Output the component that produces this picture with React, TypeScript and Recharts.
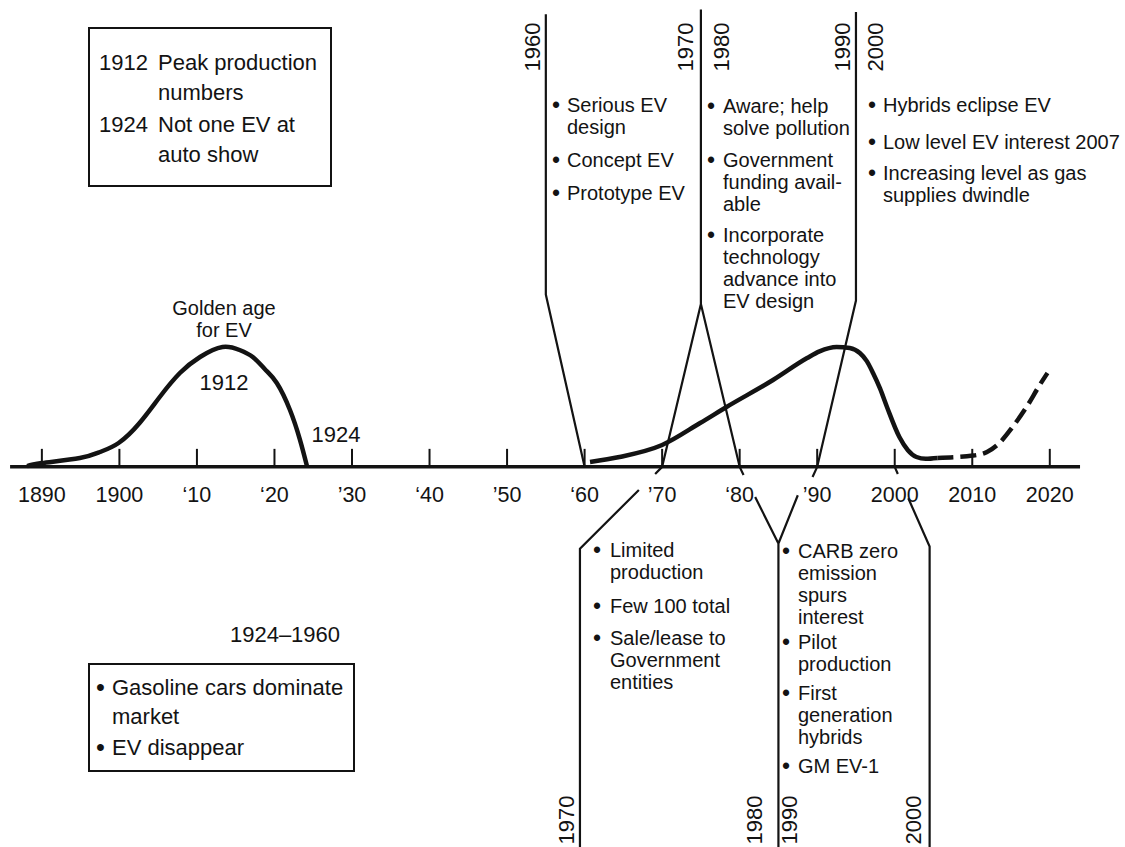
import React from "react";
import { ComposedChart, Line, Scatter, XAxis, YAxis } from "recharts";

const W = 1125;
const H = 847;
const FONT = '"Liberation Sans", Arial, Helvetica, sans-serif';
const INK = "#131313";

// time axis
const TICK_YEARS = [1890, 1900, 1910, 1920, 1930, 1940, 1950, 1960, 1970, 1980, 1990, 2000, 2010, 2020];
const TICK_LABELS = ["1890", "1900", "‘10", "‘20", "’30", "‘40", "’50", "‘60", "’70", "‘80", "’90", "2000", "2010", "2020"];
const AXIS_ENDS = [1885.9, 2023.9];

// EV interest level over time: 0 = on the axis, ~100 = peak
const GOLDEN_AGE = [
  [1888.1, 0.7], [1890, 3.2], [1894.9, 7.5], [1897.5, 12.5], [1899.9, 20.1], [1902.6, 36.9],
  [1905.2, 58.8], [1907.8, 79], [1910.4, 92.5], [1913.3, 100.9], [1915.5, 98.4],
  [1917.2, 92.5], [1918.8, 82], [1920.3, 70.6], [1922.0, 47.9], [1923.3, 22.6], [1924.2, 0.5],
];
const REVIVAL = [
  [1960.7, 4.1], [1964.5, 8.3], [1970, 18.4], [1974.9, 36.9], [1978.3, 50.4], [1984.3, 73.1],
  [1988.7, 91.6], [1990.3, 97.2], [1992.5, 100.9], [1994.2, 100], [1995.5, 95.8], [1996.4, 89],
  [1997.2, 79], [1998.1, 66], [1999.0, 50.4], [2000.6, 25.1], [2001.7, 14], [2002.8, 8.3],
  [2004.0, 6.8], [2005.5, 7.5],
];
const OUTLOOK = [
  [2005.5, 7.5], [2010.1, 9.5], [2011.9, 12.5], [2013.5, 20.1], [2015.2, 33.6], [2017.0, 50.4],
  [2018.7, 68.9], [2019.7, 79],
];

// leader lines from the notes to the axis (year, level); null leaves room for a tick label
const LEAD_1960 = [[1955, 381], [1955, 145], [1960, 0]];
const LEAD_1970_80 = [[1975, 385], [1975, 137], [1970, 0], [1972, null], [1975, 137], [1980, 0]];
const LEAD_1990_2000 = [[1995, 383], [1995, 140], [1990, 0]];
const LEAD_LOW_1970 = [[1959.4, -320], [1959.4, -69], [1967, -19.4], [1968, null], [1969.1, -6], [1970, 0]];
const LEAD_LOW_1980_90 = [
  [1985, -320], [1985, -64.5], [1982, -25.4], [1981, null], [1980.5, -6.8], [1980, 0],
  [1983, null], [1985, -64.5], [1987.5, -23.9], [1989, null], [1989.4, -8.5], [1990, 0],
];
const LEAD_LOW_2000 = [[2004.5, -320], [2004.5, -67], [2001.75, -26.4], [2001, null], [2000.4, -6], [2000, 0]];

// note texts
const PEAK_NOTES: [string, string[]][] = [
  ["1912", ["Peak production", "numbers"]],
  ["1924", ["Not one EV at", "auto show"]],
];
const GAS_NOTES = [["Gasoline cars dominate", "market"], ["EV disappear"]];
const NOTES_60S = [["Serious EV", "design"], ["Concept EV"], ["Prototype EV"]];
const NOTES_70S = [
  ["Aware; help", "solve pollution"],
  ["Government", "funding avail-", "able"],
  ["Incorporate", "technology", "advance into", "EV design"],
];
const NOTES_2000S = [["Hybrids eclipse EV"], ["Low level EV interest 2007"], ["Increasing level as gas", "supplies dwindle"]];
const NOTES_LOW_70S = [["Limited", "production"], ["Few 100 total"], ["Sale/lease to", "Government", "entities"]];
const NOTES_LOW_90S = [
  ["CARB zero", "emission", "spurs", "interest"],
  ["Pilot", "production"],
  ["First", "generation", "hybrids"],
  ["GM EV-1"],
];

const pts = (arr: (number | null)[][]) => arr.map(([year, v]) => ({ year, v }));

const tickData = TICK_YEARS.map((year, i) => ({ year, v: 0, label: TICK_LABELS[i] }));

function TickMark(p: any) {
  return (
    <g>
      <line x1={p.cx} x2={p.cx} y1={p.cy - 18} y2={p.cy} stroke={INK} strokeWidth={2} />
      <text x={p.cx} y={p.cy + 35} textAnchor="middle" fontSize={21.5} fontFamily={FONT} fill={INK}>
        {p.payload.label}
      </text>
    </g>
  );
}

function Bullet({ size }: { size: number }) {
  return <span style={{ position: "absolute", left: -1, top: 0, fontSize: size * 1.15 }}>•</span>;
}

function Notes({ x, textX, top, items, gaps }: { x: number; textX: number; top: number; items: string[][]; gaps: number[] }) {
  return (
    <div style={{ position: "absolute", left: x - 4, top, fontSize: 20, lineHeight: "22px" }}>
      {items.map((lines, i) => (
        <div key={i} style={{ position: "relative", paddingLeft: textX - x + 4, marginTop: i ? gaps[i - 1] : 0 }}>
          <Bullet size={20} />
          {lines.map((l) => (
            <div key={l} style={{ whiteSpace: "nowrap" }}>{l}</div>
          ))}
        </div>
      ))}
    </div>
  );
}

function Tag({ x, y, text }: { x: number; y: number; text: string }) {
  return (
    <div style={{ position: "absolute", left: x, top: y, width: 0, height: 0 }}>
      <span
        style={{
          position: "absolute",
          left: 0,
          top: 0,
          fontSize: 22,
          lineHeight: "22px",
          whiteSpace: "nowrap",
          transform: "translate(-50%, -50%) rotate(-90deg)",
        }}
      >
        {text}
      </span>
    </div>
  );
}

function Label({ x, y, text, size = 22, lh = 26, w = 120 }: { x: number; y: number; text: string[]; size?: number; lh?: number; w?: number }) {
  return (
    <div style={{ position: "absolute", left: x - w / 2, top: y, width: w, textAlign: "center", fontSize: size, lineHeight: `${lh}px` }}>
      {text.map((t) => (
        <div key={t}>{t}</div>
      ))}
    </div>
  );
}

const lead = { stroke: INK, strokeWidth: 2.2, dot: false, activeDot: false, isAnimationActive: false, type: "linear" as const, connectNulls: false };
const curve = { stroke: INK, strokeWidth: 4.5, dot: false, activeDot: false, isAnimationActive: false, type: "monotone" as const };

export default function App() {
  return (
    <div style={{ position: "absolute", left: 0, top: 0, width: W, height: H, background: "#fff", fontFamily: FONT, color: INK }}>
      <ComposedChart width={W} height={H} margin={{ top: 0, right: 0, bottom: 0, left: 0 }}>
        <XAxis dataKey="year" type="number" domain={[1884.6, 2029.7]} hide />
        <YAxis type="number" domain={[-320, 393]} hide />

        <Line data={pts(LEAD_1960)} dataKey="v" {...lead} />
        <Line data={pts(LEAD_1970_80)} dataKey="v" {...lead} />
        <Line data={pts(LEAD_1990_2000)} dataKey="v" {...lead} />
        <Line data={pts(LEAD_LOW_1970)} dataKey="v" {...lead} />
        <Line data={pts(LEAD_LOW_1980_90)} dataKey="v" {...lead} />
        <Line data={pts(LEAD_LOW_2000)} dataKey="v" {...lead} />

        <Line data={pts(AXIS_ENDS.map((y) => [y, 0]))} dataKey="v" {...lead} strokeWidth={3.5} />
        <Scatter data={tickData} dataKey="v" shape={TickMark} isAnimationActive={false} />

        <Line data={pts(GOLDEN_AGE)} dataKey="v" {...curve} type="natural" />
        <Line data={pts(REVIVAL)} dataKey="v" {...curve} />
        <Line data={pts(OUTLOOK)} dataKey="v" {...curve} strokeDasharray="16 7" />
      </ComposedChart>

      <div
        style={{
          position: "absolute", left: 88, top: 27, width: 244, height: 160, boxSizing: "border-box",
          border: `2px solid ${INK}`, padding: "19px 0 0 9px", fontSize: 22, lineHeight: "30px",
        }}
      >
        {PEAK_NOTES.map(([yr, lines], i) => (
          <div key={yr} style={{ display: "flex", marginTop: i ? 2 : 0 }}>
            <span style={{ width: 59, flex: "none" }}>{yr}</span>
            <div>{lines.map((l) => <div key={l} style={{ whiteSpace: "nowrap" }}>{l}</div>)}</div>
          </div>
        ))}
      </div>

      <div
        style={{
          position: "absolute", left: 88, top: 663, width: 267, height: 109, boxSizing: "border-box",
          border: `2px solid ${INK}`, padding: "8px 0 0 7px", fontSize: 22, lineHeight: "29px",
        }}
      >
        {GAS_NOTES.map((lines, i) => (
          <div key={i} style={{ position: "relative", paddingLeft: 15, marginTop: i ? 2 : 0 }}>
            <Bullet size={22} />
            {lines.map((l) => <div key={l} style={{ whiteSpace: "nowrap" }}>{l}</div>)}
          </div>
        ))}
      </div>

      <Label x={224} y={297} text={["Golden age", "for EV"]} size={20} lh={22} />
      <Label x={224} y={370} text={["1912"]} />
      <Label x={336} y={422} text={["1924"]} />
      <Label x={285} y={622} text={["1924–1960"]} w={160} />

      <Notes x={557} textX={567} top={94} items={NOTES_60S} gaps={[11, 11]} />
      <Notes x={712} textX={723} top={95} items={NOTES_70S} gaps={[10, 9]} />
      <Notes x={873} textX={883} top={94} items={NOTES_2000S} gaps={[15, 9]} />
      <Notes x={598} textX={610} top={539} items={NOTES_LOW_70S} gaps={[12, 10]} />
      <Notes x={787} textX={798} top={540} items={NOTES_LOW_90S} gaps={[3, 7, 7]} />

      <Tag x={533} y={47} text="1960" />
      <Tag x={686} y={47} text="1970" />
      <Tag x={722} y={47} text="1980" />
      <Tag x={843} y={47} text="1990" />
      <Tag x={876} y={47} text="2000" />
      <Tag x={567} y={820} text="1970" />
      <Tag x={755} y={820} text="1980" />
      <Tag x={790} y={820} text="1990" />
      <Tag x={914} y={820} text="2000" />
    </div>
  );
}
